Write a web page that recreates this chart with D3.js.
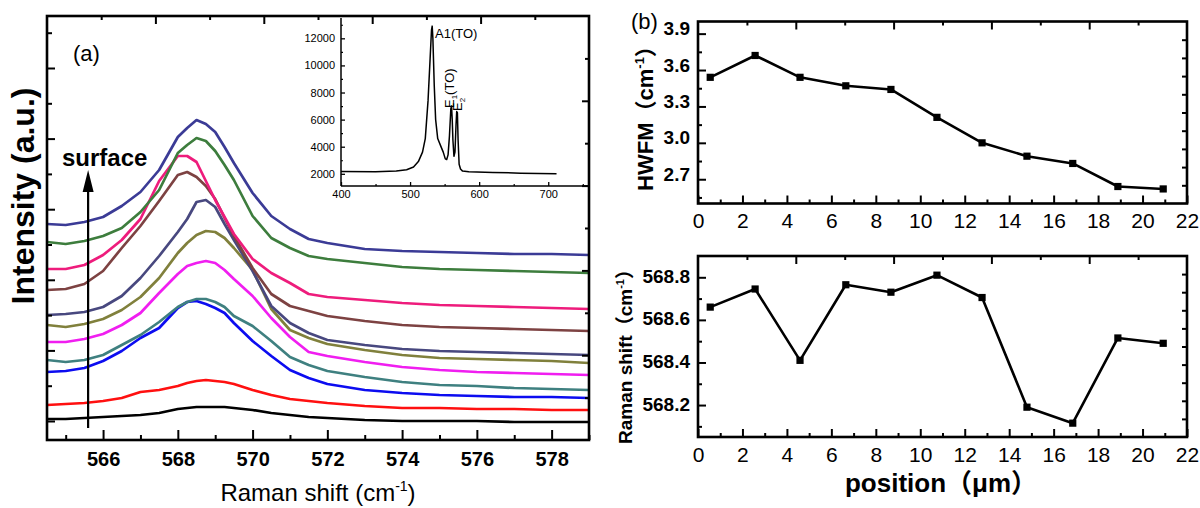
<!DOCTYPE html>
<html><head><meta charset="utf-8">
<script src="https://cdn.jsdelivr.net/npm/d3@7"></script>
<style>
body{margin:0;background:#fff}
svg{display:block}
text{font-family:"Liberation Sans",Arial,"Noto Sans CJK SC",sans-serif;fill:#000}
</style></head>
<body><svg id="chart" width="1200" height="508"></svg>
<script>
// ---------- Panel (a) data: Raman spectra (arbitrary intensity units) ----------
const ramanShift = [564.5,565,565.5,566,566.5,567,567.5,568,568.25,568.5,568.75,569,569.25,569.5,570,570.5,571,571.5,572,573,574,575,576,577,578,579];
const spec01 = [216,215,218,223,234,248,270,303,312,320,316,308,293,277,247,224,211,201,197,191,189,188,187,186,186,185];
const spec02 = [198,196,199,204,212,228,250,287,295,302,299,289,275,260,224,202,192,184,181,177,173,171,170,169,168,167];
const spec03 = [171,171,175,185,200,221,259,284,284,278,259,240,223,206,181,167,157,146,143,140,137,135,134,133,132,131];
const spec04 = [150,151,156,169,192,214,239,265,268,263,254,241,222,204,172,146,134,129,124,119,115,113,112,111,110,109];
const spec05 = [125,126,128,133,144,162,184,208,221,238,240,233,216,200,169,134,117,107,100,95,91,89,88,87,86,85];
const spec06 = [115,113,116,121,130,143,162,187,197,205,209,208,202,192,170,131,110,102,96,90,85,82,81,80,79,77];
const spec07 = [98,98,101,106,115,127,147,166,174,177,179,177,170,161,144,122,103,88,84,78,73,70,68,67,66,65];
const spec08 = [80,78,80,85,95,105,118,133,138,141,141,138,133,124,114,99,83,75,69,63,58,55,54,52,51,50];
const spec09 = [68,69,72,79,89,102,112,132,138,139,136,132,127,117,99,84,70,62,56,50,47,45,44,43,43,42];
const spec10 = [35,36,37,39,42,48,50,54,57,59,60,59,58,56,50,45,41,39,37,34,32,32,31,31,30,30];
const spec11 = [21,21,22,23,24,25,27,31,32,33,33,33,33,32,30,27,25,23,22,20,19,19,19,18,18,18];
const specColors = ["#3b3b96","#3d7d3d","#ee1c7c","#7d4242","#48487f","#80803c","#f01ef0","#3f8080","#0c0cf0","#ff1010","#000000"];
const xTicksA = [566,568,570,572,574,576,578];

// inset spectrum
const insetShift = [400,450,480,495,505,512,518,522,526,529,531,532,533,535,537,540,544,548,551,553,555,557,559,560,561,562,563.5,565,566.5,567.5,568.5,569.5,571,573,576,585,620,660,712];
const insetCounts = [2170,2150,2200,2300,2500,2900,3600,4600,7400,10500,12600,12900,12000,8500,6000,4600,4100,3600,3100,3050,3400,4800,6800,7000,6000,4500,3300,3600,5600,6600,6500,4500,2700,2350,2200,2150,2100,2050,2000];
const insetYTicks = [2000,4000,6000,8000,10000,12000];
const insetXTicks = [400,500,600,700];

// ---------- Panel (b) data ----------
const position = [0.55,2.57,4.59,6.65,8.68,10.75,12.78,14.8,16.86,18.89,20.93];
const hwfm = [3.54,3.72,3.54,3.47,3.44,3.21,3.00,2.89,2.83,2.64,2.62];
const peakShift = [568.66,568.745,568.41,568.765,568.73,568.81,568.705,568.19,568.115,568.515,568.49];
const posTicks = [0,2,4,6,8,10,12,14,16,18,20,22];
const hwfmTicks = [2.7,3.0,3.3,3.6,3.9];
const shiftTicks = [568.2,568.4,568.6,568.8];

const svg = d3.select("#chart");

function addAxis(orient, scale, values, size, x, y, fmt, pad) {
  const gen = {bottom:d3.axisBottom, top:d3.axisTop, left:d3.axisLeft, right:d3.axisRight}[orient](scale)
    .tickValues(values).tickSizeInner(-size).tickSizeOuter(0).tickPadding(pad || 0)
    .tickFormat(fmt || (() => ""));
  const g = svg.append("g").attr("transform", `translate(${x},${y})`).call(gen);
  g.select(".domain").remove();
  g.selectAll(".tick line").attr("stroke", "#000").attr("stroke-width", 2);
  g.selectAll(".tick text").attr("fill", "#000");
  return g;
}
function frame(x0, y0, x1, y1, w) {
  svg.append("rect").attr("x", x0).attr("y", y0).attr("width", x1 - x0).attr("height", y1 - y0)
    .attr("fill", "none").attr("stroke", "#000").attr("stroke-width", w || 2.6);
}
const odd = (a, b) => d3.range(a, b + 0.001, 2);

// ================= Panel (a) =================
const A = {l:47, r:589, t:16, b:440};
const xA = d3.scaleLinear().domain([564.5, 579]).range([A.l, A.r]);
const yA = d3.scaleLinear().domain([0, 424]).range([A.b, A.t]);
const topA = d3.scaleLinear().domain([0, 10]).range([A.l, A.r]);
const rightA = d3.scaleLinear().domain([0, 10]).range([A.b, A.t]);
const leftTicksA = d3.range(12).map(k => 19 + k * 35.3);

svg.append("clipPath").attr("id", "clipA").append("rect")
  .attr("x", A.l).attr("y", A.t).attr("width", A.r - A.l).attr("height", A.b - A.t);

const specs = [spec11, spec10, spec09, spec08, spec07, spec06, spec05, spec04, spec03, spec02, spec01];
const colorsBottomUp = specColors.slice().reverse();
const lineA = d3.line().x((d, i) => xA(ramanShift[i])).y(d => yA(d));
svg.append("g").attr("clip-path", "url(#clipA)").selectAll("path").data(specs).join("path")
  .attr("d", d => lineA(d)).attr("fill", "none")
  .attr("stroke", (d, i) => colorsBottomUp[i]).attr("stroke-width", 2.7)
  .attr("stroke-linejoin", "round");

// axes (a)
addAxis("bottom", xA, xTicksA, 10, 0, A.b, d3.format("d"), 12)
  .selectAll("text").style("font-size", "20px").style("font-weight", "bold");
addAxis("bottom", xA, odd(565, 579), 5, 0, A.b);
addAxis("top", topA, [2,4,6,8], 8, 0, A.t);
addAxis("top", topA, [1,3,5,7,9], 4, 0, A.t);
addAxis("left", yA, leftTicksA.filter((d, i) => i % 2 === 0), 8, A.l, 0);
addAxis("left", yA, leftTicksA.filter((d, i) => i % 2 === 1), 5, A.l, 0);
addAxis("right", rightA, [2,4,6,8], 7, A.r, 0);
addAxis("right", rightA, [1,3,5,7,9], 4, A.r, 0);
frame(A.l, A.t, A.r, A.b);

// labels (a)
svg.append("text").attr("x", 73).attr("y", 61).style("font-size", "22px").text("(a)");
svg.append("text").attr("x", 62).attr("y", 166).style("font-size", "24px").style("font-weight", "bold").text("surface");
const arrowX = xA(565.6);
svg.append("line").attr("x1", arrowX).attr("x2", arrowX).attr("y1", yA(12)).attr("y2", yA(250))
  .attr("stroke", "#000").attr("stroke-width", 2.2);
svg.append("path").attr("d", `M${arrowX},${yA(270)} L${arrowX - 5.5},${yA(248)} L${arrowX + 5.5},${yA(248)} Z`).attr("fill", "#000");

svg.append("text").attr("transform", "translate(34,196) rotate(-90)").attr("text-anchor", "middle")
  .style("font-size", "32px").style("font-weight", "bold").text("Intensity (a.u.)");
const xt = svg.append("text").attr("x", 318).attr("y", 501).attr("text-anchor", "middle").style("font-size", "24px");
xt.append("tspan").text("Raman shift (cm");
xt.append("tspan").attr("dy", -10).style("font-size", "14px").text("-1");
xt.append("tspan").attr("dy", 10).text(")");

// inset
const I = {l:341, r:589, t:18, b:186};
const xI = d3.scaleLinear().domain([400, 759]).range([I.l, I.r]);
const yI = d3.scaleLinear().domain([1100, 13500]).range([I.b, I.t]);
svg.append("path").datum(insetCounts)
  .attr("d", d3.line().x((d, i) => xI(insetShift[i])).y(d => yI(d)))
  .attr("fill", "none").attr("stroke", "#000").attr("stroke-width", 1.5).attr("stroke-linejoin", "round");
const ia1 = addAxis("left", yI, insetYTicks, 4, I.l, 0, d3.format("d"), 6);
ia1.selectAll("text").style("font-size", "11px").attr("fill", "#222");
ia1.selectAll(".tick line").attr("stroke-width", 1.3);
addAxis("left", yI, [3000,5000,7000,9000,11000,13000], 2, I.l, 0).selectAll(".tick line").attr("stroke-width", 1.2);
const ia2 = addAxis("bottom", xI, insetXTicks, 4, 0, I.b, d3.format("d"), 4);
ia2.selectAll("text").style("font-size", "11px").attr("fill", "#222");
ia2.selectAll(".tick line").attr("stroke-width", 1.3);
addAxis("bottom", xI, [450,550,650,750], 2, 0, I.b).selectAll(".tick line").attr("stroke-width", 1.2);
svg.append("line").attr("x1", I.l).attr("x2", I.l).attr("y1", I.t).attr("y2", I.b).attr("stroke", "#000").attr("stroke-width", 1.5);
svg.append("line").attr("x1", I.l).attr("x2", I.r).attr("y1", I.b).attr("y2", I.b).attr("stroke", "#000").attr("stroke-width", 1.5);

svg.append("text").attr("x", 435).attr("y", 38).style("font-size", "13px").attr("fill", "#222").text("A1(TO)");
const e1 = svg.append("text").attr("transform", "translate(454,108) rotate(-90)").style("font-size", "13px");
e1.append("tspan").text("E");
e1.append("tspan").attr("dy", 3).style("font-size", "8px").text("1");
e1.append("tspan").attr("dy", -3).text("(TO)");
const e2 = svg.append("text").attr("transform", "translate(462,111) rotate(-90)").style("font-size", "13px");
e2.append("tspan").text("E");
e2.append("tspan").attr("dy", 3).style("font-size", "8px").text("2");

// ================= Panel (b) =================
const B1 = {l:698, r:1187, t:21.5, b:203.5};
const B2 = {l:698, r:1187, t:256, b:437};
const xB = d3.scaleLinear().domain([0, 22]).range([B1.l, B1.r]);
const yB1 = d3.scaleLinear().domain([2.5, 4.0]).range([B1.b, B1.t]);
const yB2 = d3.scaleLinear().domain([568.05, 568.9]).range([B2.b, B2.t]);
const topB = d3.scaleLinear().domain([0, 10]).range([B1.l, B1.r]);

function panelB(P, yS, vals, yTicks, yMinor, labelShift) {
  const rightS = d3.scaleLinear().domain([0, 10]).range([P.b, P.t]);
  svg.append("path").datum(vals)
    .attr("d", d3.line().x((d, i) => xB(position[i])).y(d => yS(d)))
    .attr("fill", "none").attr("stroke", "#000").attr("stroke-width", 2.6).attr("stroke-linejoin", "round");
  svg.append("g").selectAll("rect").data(vals).join("rect")
    .attr("x", (d, i) => xB(position[i]) - 3.6).attr("y", d => yS(d) - 3.6)
    .attr("width", 7.2).attr("height", 7.2).attr("fill", "#000");
  const gx = addAxis("bottom", xB, posTicks, 8, 0, P.b, d3.format("d"), 10);
  gx.selectAll("text").style("font-size", "21px");
  addAxis("bottom", xB, odd(1, 21), 4, 0, P.b);
  const gy = addAxis("left", yS, yTicks, 8, P.l, 0, d3.format(".1f"), 8);
  gy.selectAll("text").style("font-size", "19px").style("font-weight", "bold").attr("transform", `translate(0,${labelShift})`);
  addAxis("left", yS, yMinor, 4, P.l, 0);
  addAxis("top", topB, [2,4,6,8], 8, 0, P.t);
  addAxis("top", topB, [1,3,5,7,9], 4, 0, P.t);
  addAxis("right", rightS, d3.range(1, 10), 5, P.r, 0);
  frame(P.l, P.t, P.r, P.b);
}
panelB(B1, yB1, hwfm, hwfmTicks, [2.55,2.85,3.15,3.45,3.75], -5);
panelB(B2, yB2, peakShift, shiftTicks, [568.1,568.3,568.5,568.7], -1);

svg.append("text").attr("x", 631).attr("y", 29).style("font-size", "22px").text("(b)");
const hy = svg.append("text").attr("transform", "translate(653,113) rotate(-90)").attr("text-anchor", "middle")
  .style("font-size", "22px").style("font-weight", "bold");
hy.append("tspan").text("HWFM（cm");
hy.append("tspan").attr("dy", -9).style("font-size", "13px").text("-1");
hy.append("tspan").attr("dy", 9).text("）");
const ry = svg.append("text").attr("transform", "translate(632,352) rotate(-90)").attr("text-anchor", "middle")
  .style("font-size", "19px").style("font-weight", "bold");
ry.append("tspan").text("Raman shift（cm");
ry.append("tspan").attr("dy", -8).style("font-size", "11px").text("-1");
ry.append("tspan").attr("dy", 8).text("）");
svg.append("text").attr("x", 941).attr("y", 492).attr("text-anchor", "middle")
  .style("font-size", "26px").style("font-weight", "bold").text("position（μm）");
</script>
</body></html>
